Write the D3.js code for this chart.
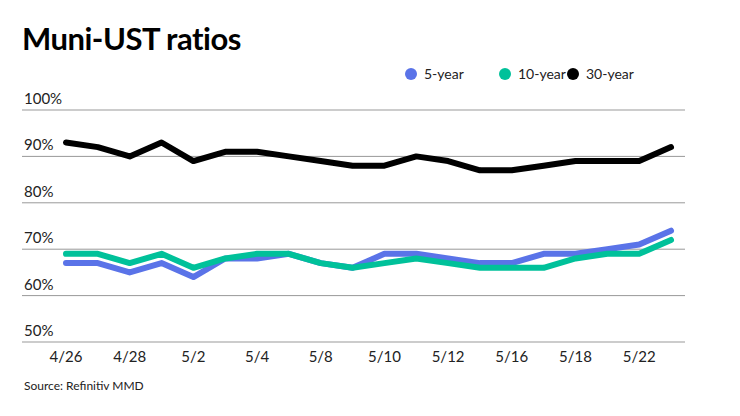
<!DOCTYPE html>
<html lang="en">
<head>
<meta charset="utf-8">
<script src="https://cdn.jsdelivr.net/npm/d3@7"></script>
<style>
  body { margin: 0; background: #fff; font-family: Lato, "Open Sans", sans-serif; }
</style>
</head>
<body>
<script>
// data
var dates = ["4/26","4/27","4/28","4/29","5/2","5/3","5/4","5/5","5/8","5/9",
             "5/10","5/11","5/12","5/15","5/16","5/17","5/18","5/19","5/22","5/23"];
var fiveYear  = [67,67,65,67,64,68,68,69,67,66,69,69,68,67,67,69,69,70,71,74];
var tenYear   = [69,69,67,69,66,68,69,69,67,66,67,68,67,66,66,66,68,69,69,72];
var thirtyYear= [93,92,90,93,89,91,91,90,89,88,88,90,89,87,87,88,89,89,89,92];
var yTicks = [50,60,70,80,90,100];
var seriesNames = ["5-year","10-year","30-year"];
var colors = ["#5a73e8","#00c19a","#000000"];

var W = 740, H = 416;
var svg = d3.select("body").append("svg").attr("width", W).attr("height", H);

var x = d3.scalePoint().domain(dates).range([66, 671]);
var y = d3.scaleLinear().domain([50, 100]).range([342, 110]);

svg.append("text").attr("x", 22).attr("y", 50)
   .attr("font-size", 31).attr("font-weight", 700).attr("fill", "#000")
   .style("letter-spacing", "-0.5px")
   .text("Muni-UST ratios");

// grid + y labels
svg.selectAll("line.grid").data(yTicks).enter().append("line")
   .attr("x1", 22).attr("x2", 685)
   .attr("y1", function(d) { return y(d); }).attr("y2", function(d) { return y(d); })
   .attr("stroke", "#999").attr("stroke-width", 1);
svg.selectAll("text.ylab").data(yTicks).enter().append("text")
   .attr("x", 24).attr("y", function(d) { return y(d) - 6; })
   .attr("font-size", 15).attr("fill", "#222")
   .text(function(d) { return d + "%"; });

// x labels
svg.selectAll("text.xlab").data(dates.filter(function(d, i) { return i % 2 === 0; }))
   .enter().append("text")
   .attr("x", function(d) { return x(d); }).attr("y", 362)
   .attr("text-anchor", "middle").attr("font-size", 15).attr("fill", "#222")
   .text(function(d) { return d; });

var line = d3.line().x(function(d, i) { return x(dates[i]); }).y(function(d) { return y(d); });
[thirtyYear, fiveYear, tenYear].forEach(function(s, k) {
  var c = [colors[2], colors[0], colors[1]][k];
  svg.append("path").datum(s).attr("d", line)
     .attr("fill", "none").attr("stroke", c).attr("stroke-width", 6)
     .attr("stroke-linejoin", "round").attr("stroke-linecap", "round");
});

// legend
var lx = [411, 505, 573];
seriesNames.forEach(function(n, i) {
  svg.append("circle").attr("cx", lx[i]).attr("cy", 74).attr("r", 6).attr("fill", colors[i]);
  svg.append("text").attr("x", lx[i] + 13).attr("y", 79)
     .attr("font-size", 14).attr("fill", "#222").text(n);
});

svg.append("text").attr("x", 24).attr("y", 390)
   .attr("font-size", 12).attr("fill", "#222").text("Source: Refinitiv MMD");
</script>
</body>
</html>
